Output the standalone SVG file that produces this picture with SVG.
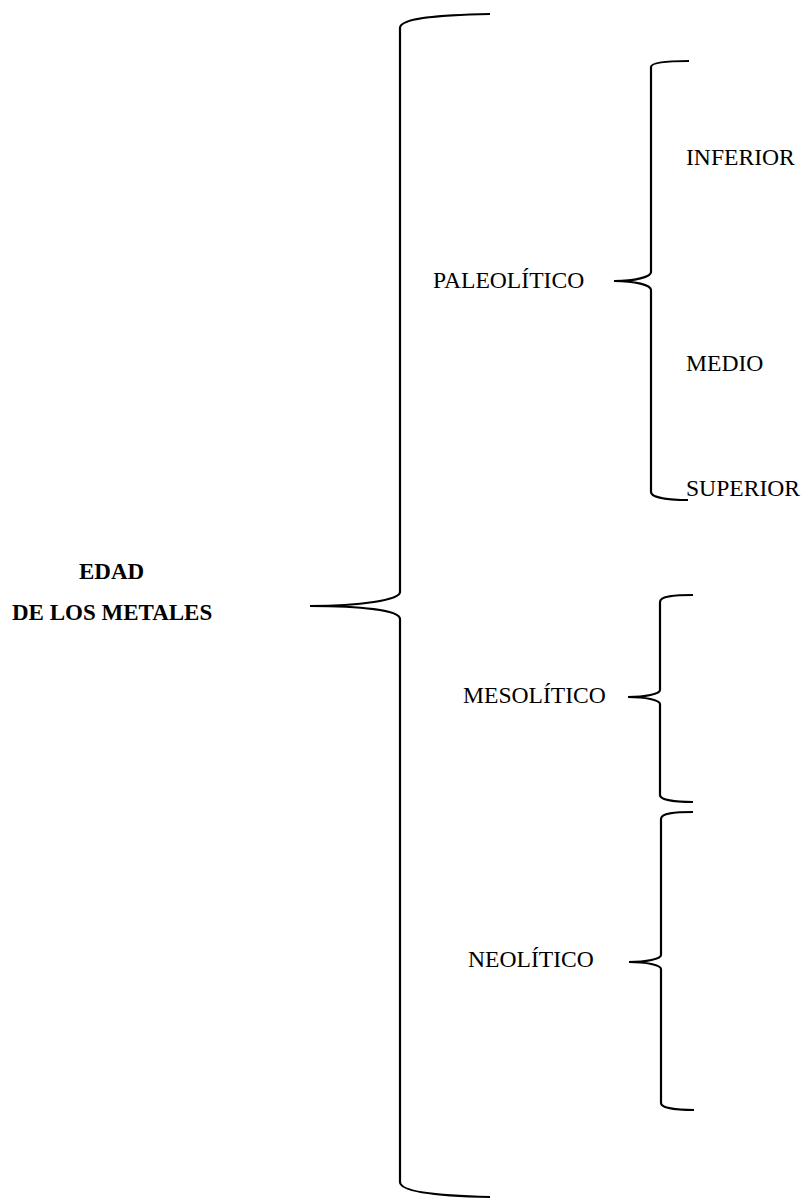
<svg xmlns="http://www.w3.org/2000/svg" width="805" height="1199" viewBox="0 0 805 1199">
<style>
.br{fill:none;stroke:#000;stroke-width:2.2;stroke-linecap:butt}
.t{font-family:"Liberation Serif","Times New Roman",serif;font-size:23.6px;fill:#000}
.b{font-weight:bold;font-size:23px}
</style>
<rect width="805" height="1199" fill="#fff"/>
<g id="connectors">
<path class="br" d="M490,14 C440,15 400,18 400,28 L400,592 C400,600 360,606 310,606 C360,606 400,610 400,619 L400,1182 C400,1192 440,1196 490,1197"/>
<path class="br" d="M689,61 C670,61 651,62 651,67 L651,272 C651,277 635,281 614,281 C635,281 651,285 651,290 L651,492 C651,498 670,500 688,500"/>
<path class="br" d="M693,595 C675,595 660,596 660,602 L660,690 C660,694 645,697 628,697 C645,697 660,700 660,704 L660,795 C660,800 675,802 693,802"/>
<path class="br" d="M693,812 C675,812 661,813 661,819 L661,955 C661,959 646,962 629,962 C646,962 661,965 661,969 L661,1103 C661,1108 676,1110 694,1110"/>
</g>
<g id="edad"><text class="t b" x="79" y="579">EDAD</text><text class="t b" x="12" y="620">DE LOS METALES</text></g>
<g id="paleolitico"><text class="t" x="433" y="288">PALEOLÍTICO</text></g>
<g id="inferior"><text class="t" x="686" y="165">INFERIOR</text></g>
<g id="medio"><text class="t" x="686" y="371">MEDIO</text></g>
<g id="superior"><text class="t" x="686" y="496">SUPERIOR</text></g>
<g id="mesolitico"><text class="t" x="463" y="703">MESOLÍTICO</text></g>
<g id="neolitico"><text class="t" x="468" y="967">NEOLÍTICO</text></g>
</svg>
